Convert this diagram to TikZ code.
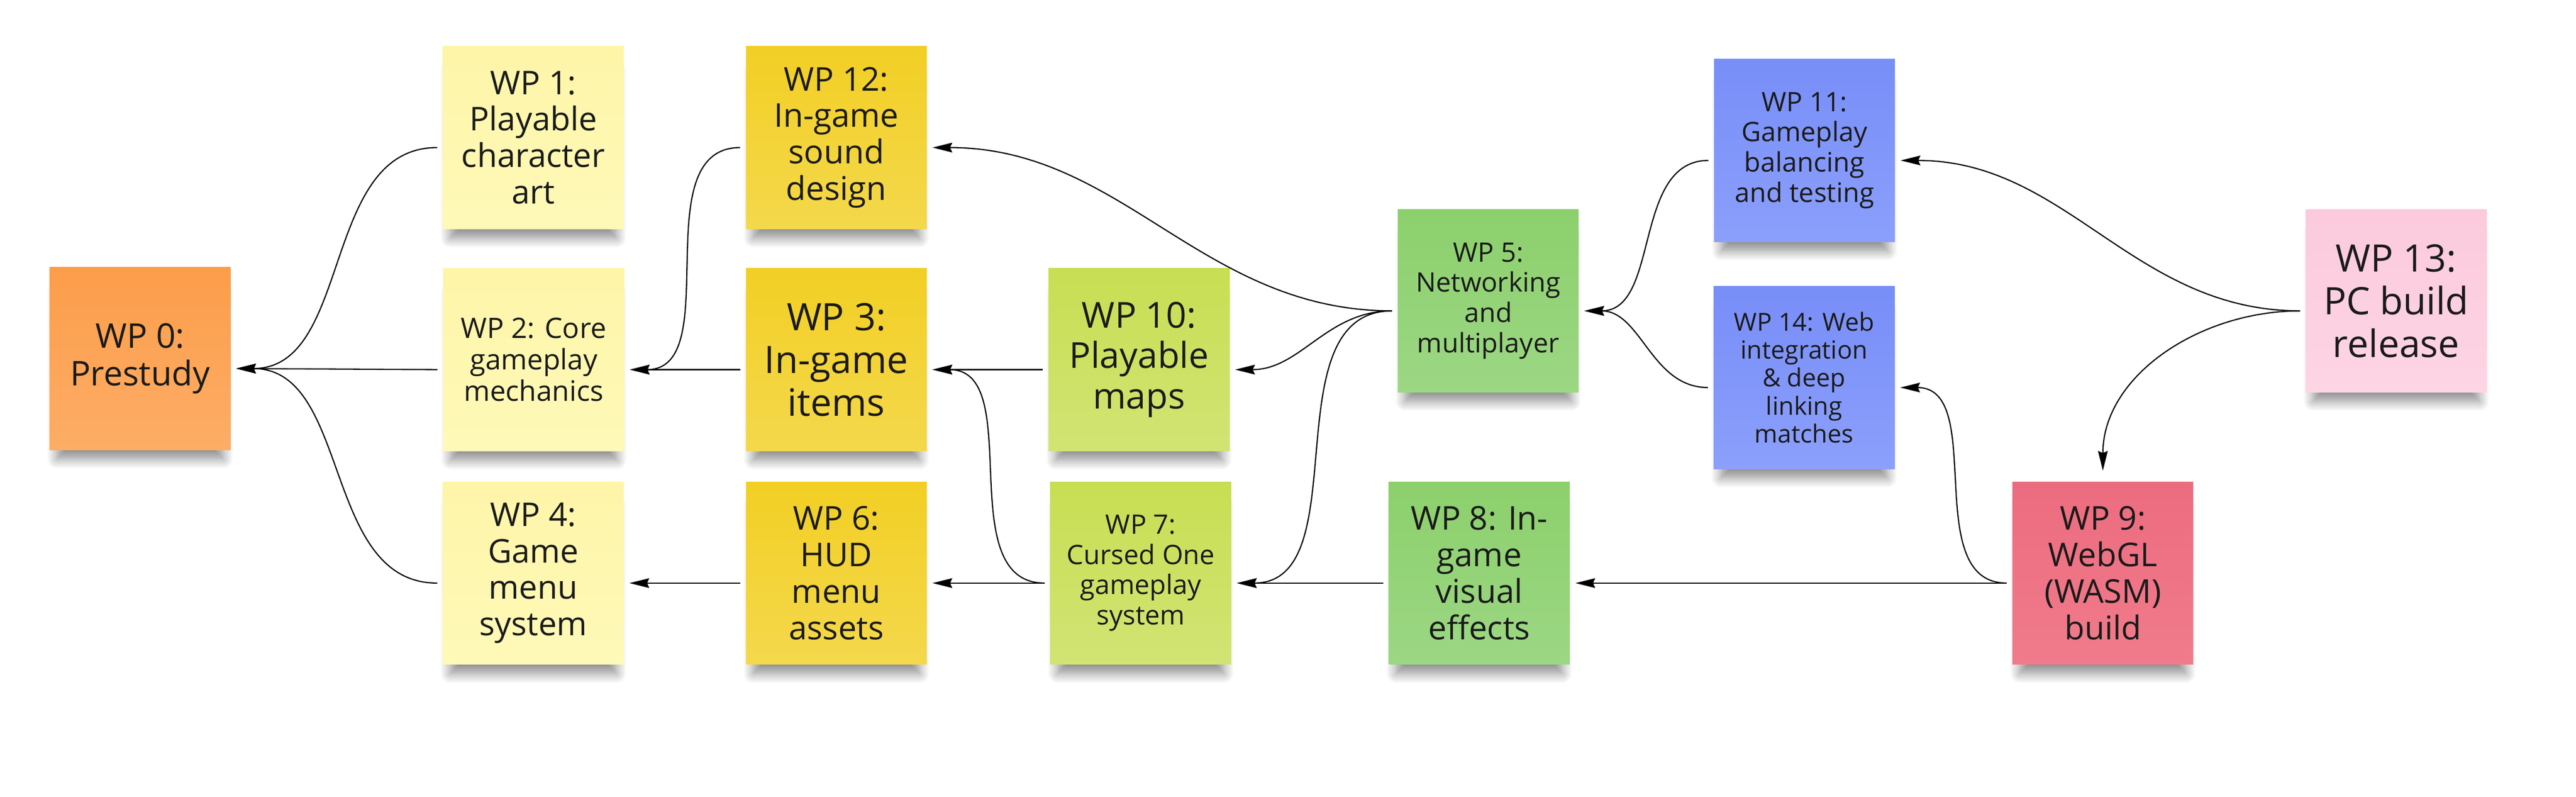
\documentclass[tikz,border=0pt]{standalone}
\usepackage{fontspec}
\setmainfont{Open Sans}
\usetikzlibrary{arrows.meta,shadows.blur}

\definecolor{inkcol}{HTML}{1A1A1A}
\definecolor{orangetop}{HTML}{FC9D4A}
\definecolor{orangebot}{HTML}{FDAD66}
\definecolor{paletop}{HTML}{FEF5A8}
\definecolor{palebot}{HTML}{FEF9B8}
\definecolor{yellowtop}{HTML}{F2CF24}
\definecolor{yellowbot}{HTML}{F4D84C}
\definecolor{limetop}{HTML}{C8DE52}
\definecolor{limebot}{HTML}{D1E474}
\definecolor{greentop}{HTML}{8CD06C}
\definecolor{greenbot}{HTML}{9CD784}
\definecolor{bluetop}{HTML}{788EF8}
\definecolor{bluebot}{HTML}{8B9FFB}
\definecolor{pinktop}{HTML}{FBCADD}
\definecolor{pinkbot}{HTML}{FDD5E4}
\definecolor{redtop}{HTML}{EC6C7F}
\definecolor{redbot}{HTML}{F07B8B}

\begin{document}
\begin{tikzpicture}[
    note/.style={minimum width=5.05cm, minimum height=5.1cm, inner sep=0pt,
      outer sep=1.6mm, align=center, text=inkcol,
      blur shadow={shadow xshift=0cm, shadow yshift=-5mm, shadow scale=0.92,
        shadow opacity=45, shadow blur radius=3mm, shadow blur steps=12}},
    orangenote/.style={note, top color=orangetop, bottom color=orangebot},
    palenote/.style={note, top color=paletop, bottom color=palebot},
    yellownote/.style={note, top color=yellowtop, bottom color=yellowbot},
    limenote/.style={note, top color=limetop, bottom color=limebot},
    greennote/.style={note, top color=greentop, bottom color=greenbot},
    bluenote/.style={note, top color=bluetop, bottom color=bluebot},
    pinknote/.style={note, top color=pinktop, bottom color=pinkbot},
    rednote/.style={note, top color=redtop, bottom color=redbot},
    link/.style={line width=0.95pt, -{Stealth[length=5.5mm,width=2.7mm,inset=0.6mm]}}]
  \useasboundingbox (0,0) rectangle (71.92,22.24);
  % work packages
  \node[orangenote, font=\fontsize{27}{30}\selectfont] (W0) at (3.91,12.23) {WP 0:\\Prestudy};
  \node[palenote, font=\fontsize{26}{29}\selectfont] (W1) at (14.89,18.40) {WP 1:\\Playable\\character\\art};
  \node[palenote, font=\fontsize{22.4}{25}\selectfont] (W2) at (14.90,12.20) {WP 2: Core\\gameplay\\mechanics};
  \node[palenote, font=\fontsize{26}{29}\selectfont] (W4) at (14.89,6.24) {WP 4:\\Game\\menu\\system};
  \node[yellownote, font=\fontsize{26}{29}\selectfont] (W12) at (23.35,18.40) {WP 12:\\In-game\\sound\\design};
  \node[yellownote, font=\fontsize{30}{34}\selectfont] (W3) at (23.35,12.20) {WP 3:\\In-game\\items};
  \node[yellownote, font=\fontsize{26}{29}\selectfont] (W6) at (23.35,6.24) {WP 6:\\HUD\\menu\\assets};
  \node[limenote, font=\fontsize{28.4}{32}\selectfont] (W10) at (31.80,12.20) {WP 10:\\Playable\\maps};
  \node[limenote, font=\fontsize{21.3}{24}\selectfont] (W7) at (31.85,6.24) {WP 7:\\Cursed One\\gameplay\\system};
  \node[greennote, font=\fontsize{21.3}{24}\selectfont] (W5) at (41.55,13.84) {WP 5:\\Networking\\and\\multiplayer};
  \node[greennote, font=\fontsize{26}{29}\selectfont] (W8) at (41.30,6.24) {WP 8: In-\\game\\visual\\effects};
  \node[bluenote, font=\fontsize{21.3}{24}\selectfont] (W11) at (50.38,18.04) {WP 11:\\Gameplay\\balancing\\and testing};
  \node[bluenote, font=\fontsize{19.8}{22.2}\selectfont] (W14) at (50.37,11.70) {WP 14: Web\\integration\\\& deep\\linking\\matches};
  \node[pinknote, font=\fontsize{30}{34}\selectfont] (W13) at (66.90,13.84) {WP 13:\\PC build\\release};
  \node[rednote, font=\fontsize{26}{29}\selectfont] (W9) at (58.71,6.24) {WP 9:\\WebGL\\(WASM)\\build};
  % dependencies
  \draw[link] ([yshift=-2.8mm]W1.west) to[out=180,in=0] ([yshift=-2.8mm]W0.east);
  \draw[link] ([yshift=-2.8mm]W2.west) -- ([yshift=-2.8mm]W0.east);
  \draw[link] ([yshift=-2.8mm]W4.west) to[out=180,in=0] ([yshift=-2.8mm]W0.east);
  \draw[link] ([yshift=-2.8mm]W12.west) to[out=180,in=0] ([yshift=-2.8mm]W2.east);
  \draw[link] ([yshift=-2.8mm]W3.west) -- ([yshift=-2.8mm]W2.east);
  \draw[link] ([yshift=-2.8mm]W6.west) -- ([yshift=-2.8mm]W4.east);
  \draw[link] ([yshift=-2.8mm]W5.west) to[out=180,in=0] ([yshift=-2.8mm]W12.east);
  \draw[link] ([yshift=-2.8mm]W10.west) -- ([yshift=-2.8mm]W3.east);
  \draw[link] ([yshift=-2.8mm]W7.west) to[out=180,in=0] ([yshift=-2.8mm]W3.east);
  \draw[link] ([yshift=-2.8mm]W7.west) -- ([yshift=-2.8mm]W6.east);
  \draw[link] ([yshift=-2.8mm]W5.west) to[out=180,in=0] ([yshift=-2.8mm]W10.east);
  \draw[link] ([yshift=-2.8mm]W5.west) to[out=180,in=0] ([yshift=-2.8mm]W7.east);
  \draw[link] ([yshift=-2.8mm]W8.west) -- ([yshift=-2.8mm]W7.east);
  \draw[link] ([yshift=-2.8mm]W9.west) -- ([yshift=-2.8mm]W8.east);
  \draw[link] ([yshift=-2.8mm]W11.west) to[out=180,in=0] ([yshift=-2.8mm]W5.east);
  \draw[link] ([yshift=-2.8mm]W14.west) to[out=180,in=0] ([yshift=-2.8mm]W5.east);
  \draw[link] ([yshift=-2.8mm]W13.west) to[out=180,in=0] ([yshift=-2.8mm]W11.east);
  \draw[link, shorten >=1.5mm] ([yshift=-2.8mm]W13.west) to[out=180,in=90] (W9.north);
  \draw[link] ([yshift=-2.8mm]W9.west) to[out=180,in=0] ([yshift=-2.8mm]W14.east);
\end{tikzpicture}
\end{document}
